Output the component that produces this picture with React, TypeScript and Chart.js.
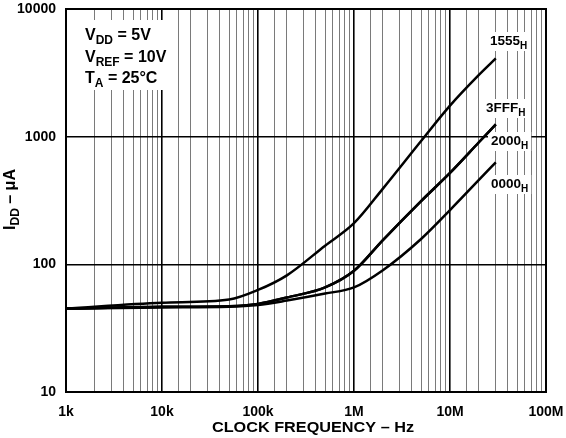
import React, { useEffect, useRef } from 'react';
import { Chart, registerables } from 'chart.js';

Chart.register(...registerables);

// ---- data ----
const frequencies = [1e3, 1e4, 5e4, 1e5, 2e5, 5e5, 1e6, 2e6, 5e6, 1e7, 2e7, 3e7];
const idd1555 = [45, 50, 53, 63, 82, 140, 210, 392, 925, 1750, 3045, 4100];
const idd3FFF = [45, 46.5, 47, 49, 55, 66, 89, 155, 313, 520, 904, 1250];
const idd2000 = [45, 46.5, 47, 49, 55, 66, 89, 155, 313, 520, 904, 1250];
const idd0000 = [45, 46, 46.5, 48, 52, 59, 66, 90, 158, 266, 458, 630];
const seriesNames = ['1555', '3FFF', '2000', '0000'];
const xTickValues = [1e3, 1e4, 1e5, 1e6, 1e7, 1e8];
const xTickLabels = ['1k', '10k', '100k', '1M', '10M', '100M'];
const yTickValues = [10, 100, 1000, 10000];
const yTickLabels = ['10', '100', '1000', '10000'];
const conditions = [
  [{ t: 'V' }, { t: 'DD', sub: true }, { t: ' = 5V' }],
  [{ t: 'V' }, { t: 'REF', sub: true }, { t: ' = 10V' }],
  [{ t: 'T' }, { t: 'A', sub: true }, { t: ' = 25°C' }],
];
const xTitle = 'CLOCK FREQUENCY – Hz';
const yTitle = [{ t: 'I' }, { t: 'DD', sub: true }, { t: ' – μA' }];

const FONT = '"Liberation Sans", Arial, Helvetica, sans-serif';

type Part = { t: string; sub?: boolean };

function partFont(p: Part, size: number) {
  const s = p.sub ? Math.round(size * 0.74) : size;
  return `bold ${s}px ${FONT}`;
}

function measureRich(ctx: CanvasRenderingContext2D, parts: Part[], size: number) {
  let w = 0;
  for (const p of parts) {
    ctx.font = partFont(p, size);
    w += ctx.measureText(p.t).width;
  }
  return w;
}

function drawRich(ctx: CanvasRenderingContext2D, parts: Part[], x: number, y: number, size: number) {
  let cx = x;
  ctx.textBaseline = 'alphabetic';
  ctx.textAlign = 'left';
  for (const p of parts) {
    ctx.font = partFont(p, size);
    ctx.fillText(p.t, cx, y + (p.sub ? size * 0.26 : 0));
    cx += ctx.measureText(p.t).width;
  }
  return cx - x;
}

function isDecade(v: number) {
  const l = Math.log10(v);
  return Math.abs(l - Math.round(l)) < 1e-6;
}

const decorPlugin = {
  id: 'decor',
  beforeDatasetsDraw(chart: any) {
    const ctx: CanvasRenderingContext2D = chart.ctx;
    const ca = chart.chartArea;
    ctx.save();
    // conditions box
    ctx.fillStyle = '#fff';
    ctx.fillRect(ca.left + 5, ca.top + 11, 104, 70);
    ctx.fillStyle = '#000';
    const baselines = [40, 62, 83];
    conditions.forEach((line, i) => {
      drawRich(ctx, line as Part[], ca.left + 19, baselines[i], 16);
    });
    // series labels at right
    const labelPos = [
      { x: 490, y: 45 },
      { x: 486, y: 112 },
      { x: 491, y: 145 },
      { x: 491, y: 188 },
    ];
    seriesNames.forEach((name, i) => {
      const parts: Part[] = [{ t: name }, { t: 'H', sub: true }];
      const w = measureRich(ctx, parts, 13.5);
      const p = labelPos[i];
      ctx.fillStyle = '#fff';
      ctx.fillRect(p.x - 3, p.y - 13, Math.min(w + 6, ca.right - 1 - (p.x - 3)), 19);
      ctx.fillStyle = '#000';
      drawRich(ctx, parts, p.x, p.y, 13.5);
    });
    ctx.restore();
  },
  afterDraw(chart: any) {
    const ctx: CanvasRenderingContext2D = chart.ctx;
    const ca = chart.chartArea;
    ctx.save();
    ctx.strokeStyle = '#000';
    ctx.lineWidth = 2;
    ctx.strokeRect(ca.left, ca.top, ca.right - ca.left, ca.bottom - ca.top);
    // x title (wide glyphs like the reference)
    ctx.save();
    ctx.fillStyle = '#000';
    ctx.font = `bold 14px ${FONT}`;
    ctx.textAlign = 'center';
    ctx.textBaseline = 'alphabetic';
    ctx.translate((ca.left + ca.right) / 2 + 7, 432);
    ctx.scale(1.16, 1);
    ctx.fillText(xTitle, 0, 0);
    ctx.restore();
    // y title
    ctx.fillStyle = '#000';
    ctx.translate(15, (ca.top + ca.bottom) / 2 - 1);
    ctx.rotate(-Math.PI / 2);
    const w = measureRich(ctx, yTitle as Part[], 16);
    drawRich(ctx, yTitle as Part[], -w / 2, 0, 16);
    ctx.restore();
  },
};

export default function App() {
  const ref = useRef<HTMLCanvasElement | null>(null);
  useEffect(() => {
    if (!ref.current) return;
    const mk = (vals: number[]) => frequencies.map((f, i) => ({ x: f, y: vals[i] }));
    const allSeries = [idd1555, idd3FFF, idd2000, idd0000];
    const zeroPad = (s: any) => {
      s.paddingTop = 0;
      s.paddingBottom = 0;
      s.paddingLeft = 0;
      s.paddingRight = 0;
    };
    const chart = new Chart(ref.current, {
      type: 'line',
      data: {
        datasets: allSeries.map((vals, i) => ({
          label: seriesNames[i],
          data: mk(vals),
          borderColor: '#000',
          borderWidth: 2.5,
          pointRadius: 0,
          fill: false,
          cubicInterpolationMode: 'monotone' as const,
        })),
      },
      options: {
        animation: false,
        responsive: true,
        maintainAspectRatio: false,
        layout: { padding: { top: 9, right: 20, left: 0, bottom: 0 } },
        plugins: { legend: { display: false }, tooltip: { enabled: false }, title: { display: false } },
        scales: {
          x: {
            type: 'logarithmic',
            min: 1e3,
            max: 1e8,
            border: { display: false },
            grid: {
              drawTicks: false,
              color: (c: any) => (c.tick && isDecade(c.tick.value) ? '#000' : '#7a7a7a'),
              lineWidth: (c: any) => (c.tick && isDecade(c.tick.value) ? 1.6 : 1),
            },
            ticks: {
              autoSkip: false,
              maxRotation: 0,
              minRotation: 0,
              padding: 12,
              color: '#000',
              font: { family: FONT, size: 14, weight: 'bold' },
              callback: (v: any) => {
                const idx = xTickValues.findIndex((t) => Math.abs(t - Number(v)) / t < 1e-6);
                return idx >= 0 ? xTickLabels[idx] : '';
              },
            },
            afterFit: (s: any) => {
              s.height = 46;
              zeroPad(s);
            },
          },
          y: {
            type: 'logarithmic',
            min: 10,
            max: 10000,
            border: { display: false },
            afterBuildTicks: (s: any) => {
              s.ticks = yTickValues.map((v) => ({ value: v }));
            },
            grid: {
              drawTicks: false,
              color: '#000',
              lineWidth: 1.4,
            },
            ticks: {
              padding: 10,
              color: '#000',
              font: { family: FONT, size: 14, weight: 'bold' },
              callback: (v: any) => {
                const idx = yTickValues.findIndex((t) => Math.abs(t - Number(v)) / t < 1e-6);
                return idx >= 0 ? yTickLabels[idx] : '';
              },
            },
            afterFit: (s: any) => {
              s.width = 66;
              zeroPad(s);
            },
          },
        },
      } as any,
      plugins: [decorPlugin],
    });
    return () => chart.destroy();
  }, []);
  return (
    <div style={{ position: 'absolute', left: 0, top: 0, width: 566, height: 438, background: '#fff' }}>
      <canvas ref={ref} width={566} height={438} />
    </div>
  );
}
